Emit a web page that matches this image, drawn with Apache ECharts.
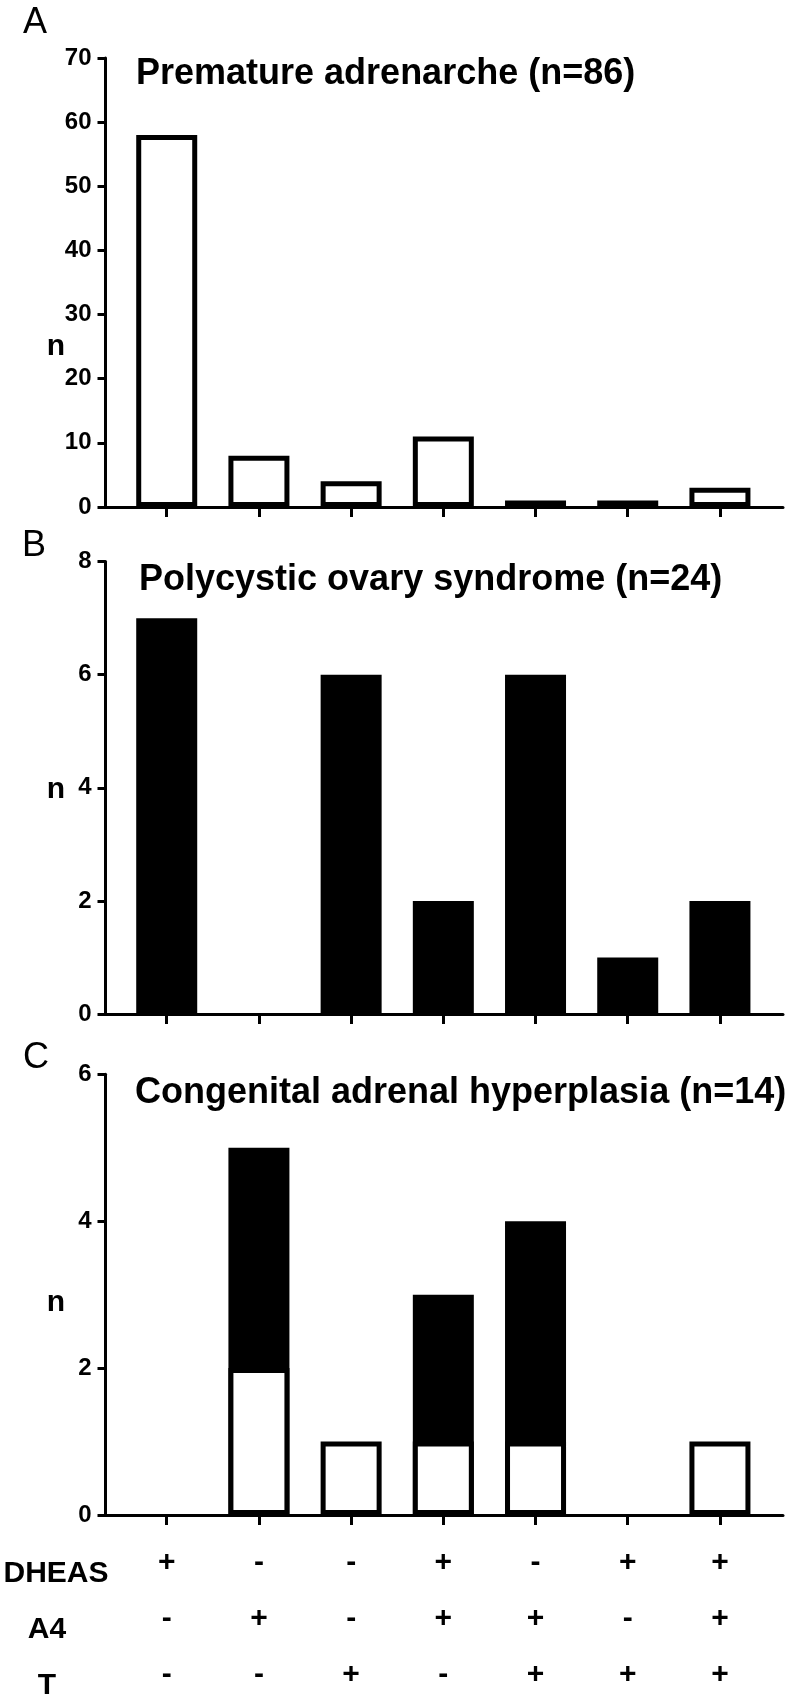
<!DOCTYPE html>
<html><head><meta charset="utf-8">
<script src="https://cdn.jsdelivr.net/npm/echarts@6/dist/echarts.min.js"></script>
<style>html,body{margin:0;padding:0;background:#fff}#c{width:793px;height:1703px}</style>
</head><body><div id="c"></div>
<script>
// ---- data ----
const categories = ['1', '2', '3', '4', '5', '6', '7'];
const rowNames = ['DHEAS', 'A4', 'T'];
const dheasRow = ['+', '-', '-', '+', '-', '+', '+'];
const a4Row = ['-', '+', '-', '+', '+', '-', '+'];
const tRow = ['-', '-', '+', '-', '+', '+', '+'];
const prematureAdrenarche = [58, 8, 4, 11, 1, 1, 3];
const pcos = [7, 0, 6, 2, 6, 1, 2];
const cahWhite = [0, 2, 1, 1, 1, 0, 1];
const cahBlack = [0, 3, 0, 2, 3, 0, 0];
const panelTitles = ['Premature adrenarche (n=86)', 'Polycystic ovary syndrome (n=24)', 'Congenital adrenal hyperplasia (n=14)'];
const panelLetters = ['A', 'B', 'C'];
const yMax = [70, 8, 6];
const yStep = [10, 2, 2];

// ---- chart ----
const FONT = "'Liberation Sans', Arial, Helvetica, sans-serif";
const chart = echarts.init(document.getElementById('c'), null, {renderer: 'canvas'});
const tickIdx = categories.map((c, i) => i);
const toData = arr => arr.map((v, i) => [i, v === 0 ? '-' : v]);
// filled part of CAH bars sits on top of the open part: draw it from 0 to (open + filled) behind the open bar
const cahFilledTop = cahBlack.map((v, i) => [i, v === 0 ? '-' : cahWhite[i] + v]);

const grids = [
  {left: 105.5, width: 677.5, top: 58, height: 449},
  {left: 105.5, width: 677.5, top: 561.6, height: 452.4},
  {left: 105.5, width: 677.5, top: 1074.3, height: 452.1}
];

const xAxes = grids.map((g, k) => ({
  type: 'value', gridIndex: k, min: -0.664, max: 6.684,
  splitLine: {show: false},
  axisLine: {show: true, onZero: false, lineStyle: {color: '#000', width: 3}},
  axisTick: {show: true, customValues: tickIdx, length: 10, lineStyle: {color: '#000', width: 3}},
  axisLabel: k === 2 ? {
    show: true, customValues: tickIdx, margin: 20,
    fontFamily: FONT, fontWeight: 'bold', fontSize: 30, color: '#000', lineHeight: 56,
    formatter: v => { const i = Math.round(v); return dheasRow[i] + '\n' + a4Row[i] + '\n' + tRow[i]; }
  } : {show: false}
}));

const yAxes = grids.map((g, k) => ({
  type: 'value', gridIndex: k, min: 0, max: yMax[k], interval: yStep[k],
  splitLine: {show: false},
  axisLine: {show: true, onZero: false, lineStyle: {color: '#000', width: 3}},
  axisTick: {show: true, length: 8, lineStyle: {color: '#000', width: 3}},
  axisLabel: {margin: 14, fontFamily: FONT, fontWeight: 'bold', fontSize: 24, color: '#000'}
}));

const barBase = {type: 'bar', barWidth: 61, clip: false};
const series = [
  Object.assign({}, barBase, {name: panelTitles[0], xAxisIndex: 0, yAxisIndex: 0, data: toData(prematureAdrenarche),
    itemStyle: {color: '#fff', borderColor: '#000', borderWidth: 5}}),
  Object.assign({}, barBase, {name: panelTitles[1], xAxisIndex: 1, yAxisIndex: 1, data: toData(pcos),
    itemStyle: {color: '#000', borderColor: '#000', borderWidth: 5}}),
  Object.assign({}, barBase, {name: 'CAH filled', xAxisIndex: 2, yAxisIndex: 2, barGap: '-100%', data: cahFilledTop,
    itemStyle: {color: '#000', borderColor: '#000', borderWidth: 5}}),
  Object.assign({}, barBase, {name: 'CAH open', xAxisIndex: 2, yAxisIndex: 2, barGap: '-100%', data: toData(cahWhite),
    itemStyle: {color: '#fff', borderColor: '#000', borderWidth: 5}})
];

const titleTops = [56, 562, 1075];
const titleLefts = [136, 139, 135];
const letterPos = [[23, 5], [22, 528], [23, 1040]];
const titles = panelTitles.map((t, k) => ({
  text: t, left: titleLefts[k], top: titleTops[k], padding: 0,
  textStyle: {fontFamily: FONT, fontWeight: 'bold', fontSize: 36, color: '#000'}
})).concat(panelLetters.map((t, k) => ({
  text: t, left: letterPos[k][0], top: letterPos[k][1], padding: 0,
  textStyle: {fontFamily: FONT, fontWeight: 'normal', fontSize: 36, color: '#000'}
})));

const nPos = [[56, 347], [56, 790], [56, 1303]];
const rowPos = [[56, 1574], [47, 1630], [47, 1686]];
const textEl = (txt, x, y, size) => ({
  type: 'text', x: x, y: y,
  style: {text: txt, font: 'bold ' + size + 'px ' + FONT, fill: '#000',
    align: 'center', verticalAlign: 'middle', textAlign: 'center', textVerticalAlign: 'middle'}
});
const graphic = nPos.map(p => textEl('n', p[0], p[1], 30))
  .concat(rowNames.map((r, i) => textEl(r, rowPos[i][0], rowPos[i][1], 30)));

chart.setOption({
  animation: false,
  backgroundColor: '#fff',
  title: titles,
  grid: grids,
  xAxis: xAxes,
  yAxis: yAxes,
  series: series,
  graphic: graphic
});
</script>
</body></html>
